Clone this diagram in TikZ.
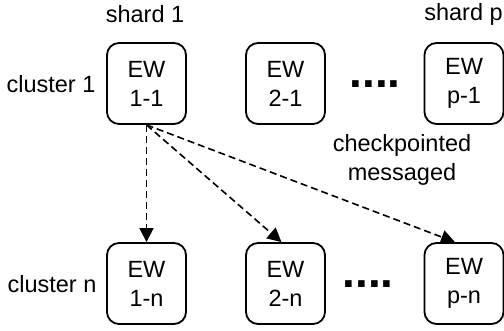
\documentclass[tikz,border=0pt]{standalone}
\usepackage{fontspec}
\setmainfont{Liberation Sans}
\usetikzlibrary{arrows.meta}

\begin{document}
\begin{tikzpicture}[x=1pt, y=-1pt,
        worker/.style={draw, line width=1.8pt, rounded corners=12pt, minimum width=79pt, minimum height=81pt, align=center, font=\fontsize{23.5}{29}\selectfont},
        lbl/.style={align=center, font=\fontsize{23.5}{29}\selectfont},
        gap/.style={anchor=base, font=\fontsize{46}{46}\selectfont\bfseries},
        msg/.style={line width=1.6pt, dash pattern=on 7pt off 4pt, -{Triangle[length=14pt,width=14pt]}}]
        \useasboundingbox (0,0) rectangle (504,331);

        % Shards and clusters
        \node[lbl] (shard1) at (145,14) {shard 1};
        \node[lbl] (shardp) at (463.5,14) {shard p};
        \node[lbl] (cluster1) at (51,84) {cluster 1};
        \node[lbl] (clustern) at (52,284) {cluster n};

        % Workers of cluster 1
        \node[worker] (ew11) at (146.5,83.5) {EW\\1-1};
        \node[worker] (ew21) at (285.5,83.5) {EW\\2-1};
        \node[worker] (ewp1) at (464,83.5) {EW\\p-1};
        \node[gap] (dots1) at (375,88) {....};

        % Workers of cluster n
        \node[worker] (ew1n) at (146.5,283.5) {EW\\1-n};
        \node[worker] (ew2n) at (285.5,283.5) {EW\\2-n};
        \node[worker] (ewpn) at (464,283.5) {EW\\p-n};
        \node[gap] (dotsn) at (368,288) {....};

        % Checkpointed messages
        \node[lbl] (ckpt) at (402,160) {checkpointed\\messaged};
        \draw[msg] (ew11.south) -- (ew1n.north);
        \draw[msg] (ew11.south) -- ([xshift=-4pt]ew2n.north);
        \draw[msg] (ew11.south) -- ([xshift=-9pt]ewpn.north);
    \end{tikzpicture}
\end{document}
